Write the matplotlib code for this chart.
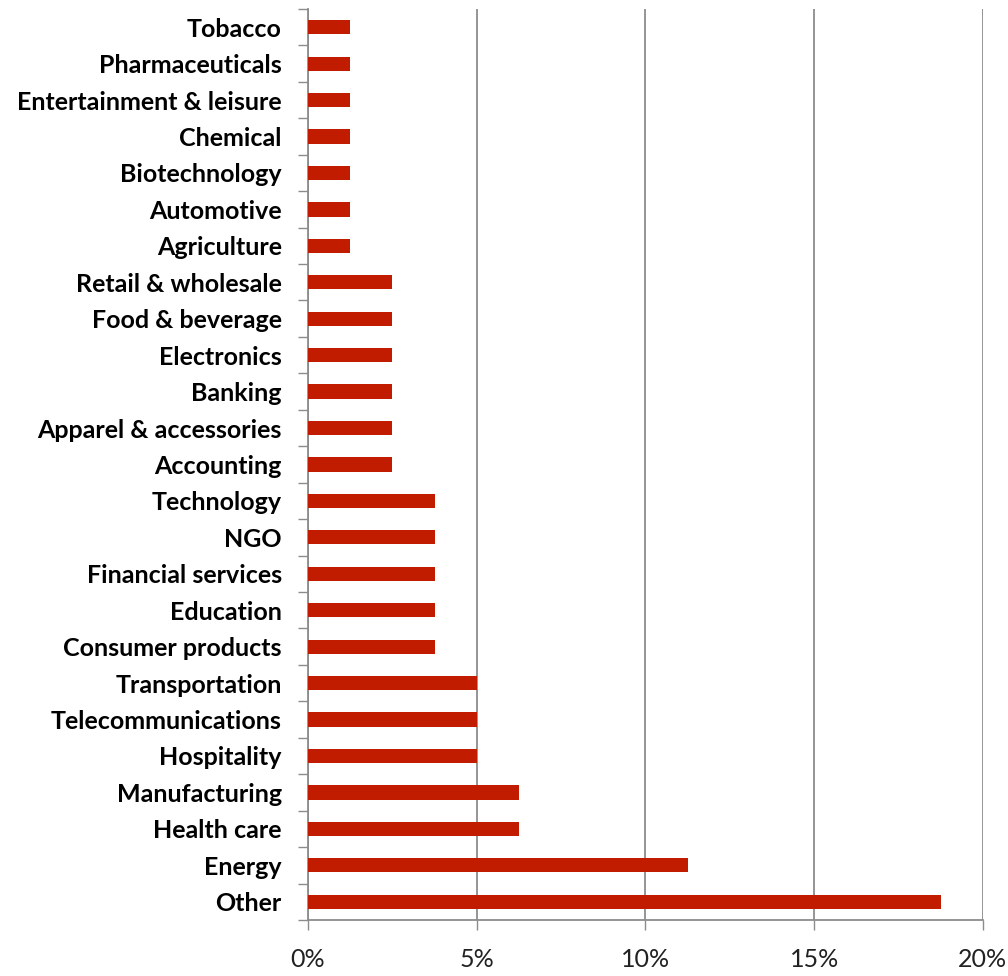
import numpy as np
import matplotlib.pyplot as plt
from matplotlib.ticker import FixedLocator, PercentFormatter

# Share of respondents by industry (percent), listed bottom to top
industries = [
    "Other", "Energy", "Health care", "Manufacturing", "Hospitality",
    "Telecommunications", "Transportation", "Consumer products", "Education",
    "Financial services", "NGO", "Technology", "Accounting",
    "Apparel & accessories", "Banking", "Electronics", "Food & beverage",
    "Retail & wholesale", "Agriculture", "Automotive", "Biotechnology",
    "Chemical", "Entertainment & leisure", "Pharmaceuticals", "Tobacco",
]
shares = [
    18.75, 11.25, 6.25, 6.25, 5.0,
    5.0, 5.0, 3.75, 3.75,
    3.75, 3.75, 3.75, 2.5,
    2.5, 2.5, 2.5, 2.5,
    2.5, 1.25, 1.25, 1.25,
    1.25, 1.25, 1.25, 1.25,
]
x_ticks = [0, 5, 10, 15, 20]

BAR_COLOR = "#C11B00"
GRID_COLOR = "#8C8C8C"

plt.rcParams['font.family'] = ['Lato', 'DejaVu Sans']

fig = plt.figure(figsize=(10.08, 9.76), dpi=100)
ax = fig.add_axes([0.3056, 0.0574, 0.6694, 0.9334])

y = np.arange(len(industries))
ax.barh(y, shares, height=0.39, color=BAR_COLOR, zorder=3)

ax.set_xlim(0, 20)
ax.set_ylim(-0.5, len(industries) - 0.5)

ax.xaxis.set_major_locator(FixedLocator(x_ticks))
ax.xaxis.set_major_formatter(PercentFormatter(decimals=0))
ax.grid(axis='x', color=GRID_COLOR, linewidth=1.3, zorder=0)
ax.tick_params(axis='x', length=7, width=1, color=GRID_COLOR, pad=13,
               labelsize=18, labelcolor="#222222")

# category labels at bar centres, tick marks on the boundaries between them
ax.set_yticks(y)
ax.set_yticklabels(industries, fontsize=18, fontweight='bold')
ax.yaxis.set_minor_locator(FixedLocator(np.arange(-0.5, len(industries), 1.0)))
ax.tick_params(axis='y', which='major', length=0, pad=19)
ax.tick_params(axis='y', which='minor', length=7, width=1, color=GRID_COLOR)

for side in ('top', 'right'):
    ax.spines[side].set_visible(False)
for side in ('left', 'bottom'):
    ax.spines[side].set_color(GRID_COLOR)
    ax.spines[side].set_linewidth(1.3)

fig.savefig("out.png", dpi=100, facecolor="white")
